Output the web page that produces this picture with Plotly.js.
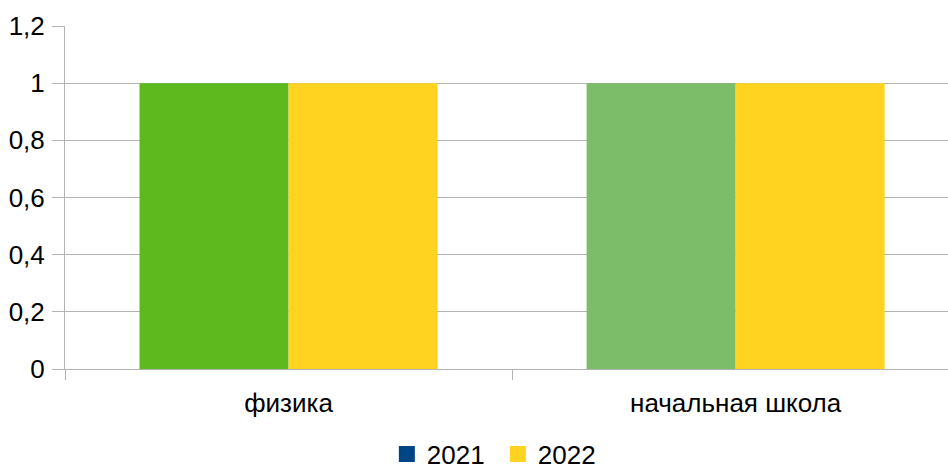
<!DOCTYPE html>
<html><head><meta charset="utf-8">
<script src="https://cdn.plot.ly/plotly-3.0.1.min.js"></script>
<style>html,body{margin:0;padding:0;overflow:hidden;background:#fff}</style>
</head><body><div id="chart" style="width:948px;height:466px"></div>
<script>
const categories = ["физика", "начальная школа"];
const values2021 = [1, 1];
const values2022 = [1, 1];
const colors2021 = ["#5eb91e", "#7bbd69"];
const legendColor2021 = "#004586";
const color2022 = "#ffd320";
const seriesNames = ["2021", "2022"];
const yTicks = [0, 0.2, 0.4, 0.6, 0.8, 1, 1.2];

const font = {family: "Liberation Sans, Arial, sans-serif", size: 26, color: "#000"};
const traces = [
  {type: "bar", x: categories, y: values2021, name: seriesNames[0], marker: {color: colors2021}, showlegend: false, hoverinfo: "none"},
  {type: "bar", x: categories, y: values2022, name: seriesNames[1], marker: {color: color2022}, showlegend: false, hoverinfo: "none"},
  {type: "scatter", mode: "markers", x: [null], y: [null], name: seriesNames[0], marker: {symbol: "square", size: 16, color: legendColor2021}},
  {type: "scatter", mode: "markers", x: [null], y: [null], name: seriesNames[1], marker: {symbol: "square", size: 16, color: color2022}}
];
const layout = {
  width: 948, height: 466,
  margin: {l: 65, r: 0, t: 26, b: 97, autoexpand: false},
  paper_bgcolor: "#fff", plot_bgcolor: "#fff",
  separators: ", ",
  font: font,
  barmode: "group", bargap: 1/3, bargroupgap: 0,
  showlegend: true,
  legend: {orientation: "h", x: 0.3645, xanchor: "left", y: -0.248, yanchor: "middle", font: font, traceorder: "normal", entrywidth: 66},
  xaxis: {type: "category", range: [-0.5, 1.475], showgrid: false, showline: true, linecolor: "#b3b3b3", linewidth: 1,
          ticks: "outside", tickson: "boundaries", ticklen: 10, tickcolor: "#b3b3b3", tickfont: font, zeroline: false, ticklabelstandoff: 11},
  yaxis: {range: [0, 1.2], tickvals: yTicks, showgrid: true, gridcolor: "#b3b3b3", gridwidth: 1, showline: true, linecolor: "#b3b3b3",
          ticks: "outside", ticklen: 12, tickcolor: "#b3b3b3", tickfont: font, zeroline: false, ticklabelstandoff: 2}
};
Plotly.newPlot("chart", traces, layout, {staticPlot: true});
</script></body></html>
